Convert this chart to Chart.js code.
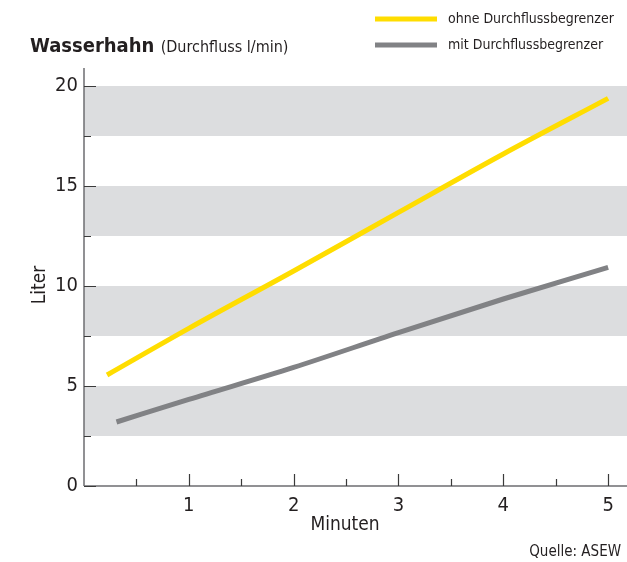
<!DOCTYPE html>
<html>
<head>
<meta charset="utf-8">
<script src="https://cdn.jsdelivr.net/npm/chart.js@4/dist/chart.umd.min.js"></script>
<style>
  html, body { margin: 0; padding: 0; background: #fff; }
  #wrap { position: relative; width: 627px; height: 562px; }
</style>
</head>
<body>
<div id="wrap"><canvas id="c" width="627" height="562"></canvas></div>
<script>
// Wasserverbrauch am Wasserhahn, Liter über Minuten
const minutesOhne = [0.22, 1, 2, 3, 4, 5];
const literOhne   = [5.55, 7.88, 10.75, 13.68, 16.6, 19.38];
const minutesMit  = [0.31, 1, 2, 3, 4, 5];
const literMit    = [3.2, 4.33, 5.93, 7.67, 9.35, 10.93];

const seriesLabels = ['ohne Durchflussbegrenzer', 'mit Durchflussbegrenzer'];
const seriesColors = ['#FFDD00', '#818285'];

// horizontal grey stripes (Liter ranges)
const bands = [[2.5, 5], [7.5, 10], [12.5, 15], [17.5, 20]];
const yMajorTicks = [0, 5, 10, 15, 20];
const yMinorTicks = [2.5, 7.5, 12.5, 17.5];
const xMajorTicks = [1, 2, 3, 4, 5];
const xMinorTicks = [0.5, 1.5, 2.5, 3.5, 4.5];

const FONT = '"Liberation Sans Narrow", "DejaVu Sans Condensed", "Roboto", sans-serif';
const TEXT = '#231f20';
const AXIS = '#6d6e71';

function pts(xs, ys) { return xs.map((x, i) => ({ x: x, y: ys[i] })); }

const decor = {
  id: 'decor',
  beforeDatasetsDraw(chart) {
    const { ctx, chartArea: a, scales: { x, y } } = chart;
    ctx.save();
    ctx.fillStyle = '#DCDDDF';
    bands.forEach(([lo, hi]) => {
      const top = y.getPixelForValue(hi), bot = y.getPixelForValue(lo);
      ctx.fillRect(a.left, top, a.right - a.left, bot - top);
    });
    // axes
    ctx.strokeStyle = AXIS;
    ctx.lineWidth = 1.5;
    ctx.beginPath();
    ctx.moveTo(a.left, a.top); ctx.lineTo(a.left, a.bottom);
    ctx.moveTo(a.left, a.bottom); ctx.lineTo(a.right, a.bottom);
    ctx.stroke();
    // inward tick marks
    ctx.strokeStyle = '#3a3a3a';
    ctx.lineWidth = 1.2;
    ctx.beginPath();
    yMajorTicks.forEach(v => { const p = Math.round(y.getPixelForValue(v)) + 0.5; ctx.moveTo(a.left, p); ctx.lineTo(a.left + 12, p); });
    yMinorTicks.forEach(v => { const p = Math.round(y.getPixelForValue(v)) + 0.5; ctx.moveTo(a.left, p); ctx.lineTo(a.left + 7, p); });
    xMajorTicks.forEach(v => { const p = Math.round(x.getPixelForValue(v)) + 0.5; ctx.moveTo(p, a.bottom); ctx.lineTo(p, a.bottom - 12); });
    xMinorTicks.forEach(v => { const p = Math.round(x.getPixelForValue(v)) + 0.5; ctx.moveTo(p, a.bottom); ctx.lineTo(p, a.bottom - 7); });
    ctx.stroke();
    ctx.restore();
  },
  afterDraw(chart) {
    const { ctx } = chart;
    ctx.save();
    ctx.fillStyle = TEXT;
    ctx.textBaseline = 'alphabetic';
    // title
    ctx.font = 'bold 20px ' + FONT;
    ctx.textAlign = 'left';
    ctx.fillText('Wasserhahn', 30, 52);
    const w = ctx.measureText('Wasserhahn ').width;
    ctx.font = '16px ' + FONT;
    ctx.fillText('(Durchfluss l/min)', 30 + w, 52);
    // legend
    const legendY = [19, 45];
    chart.data.datasets.forEach((ds, i) => {
      ctx.strokeStyle = ds.borderColor;
      ctx.lineWidth = 5;
      ctx.beginPath();
      ctx.moveTo(375, legendY[i]); ctx.lineTo(437, legendY[i]);
      ctx.stroke();
      ctx.font = '14px ' + FONT;
      ctx.textBaseline = 'middle';
      ctx.fillText(ds.label, 448, legendY[i]);
    });
    // axis titles
    ctx.textBaseline = 'middle';
    ctx.textAlign = 'center';
    ctx.font = '19px ' + FONT;
    ctx.fillText('Minuten', 345, 525);
    ctx.save();
    ctx.translate(40, 285);
    ctx.rotate(-Math.PI / 2);
    ctx.fillText('Liter', 0, 0);
    ctx.restore();
    // source
    ctx.textAlign = 'right';
    ctx.font = '15px ' + FONT;
    ctx.fillText('Quelle: ASEW', 621, 552);
    ctx.restore();
  }
};

new Chart(document.getElementById('c'), {
  type: 'line',
  data: {
    datasets: [
      { label: seriesLabels[0], data: pts(minutesOhne, literOhne), borderColor: seriesColors[0], borderWidth: 5, pointRadius: 0, borderCapStyle: 'butt', cubicInterpolationMode: 'monotone' },
      { label: seriesLabels[1], data: pts(minutesMit, literMit), borderColor: seriesColors[1], borderWidth: 5, pointRadius: 0, borderCapStyle: 'butt', cubicInterpolationMode: 'monotone' }
    ]
  },
  options: {
    responsive: false,
    animation: false,
    events: [],
    layout: { autoPadding: false, padding: { left: 0, right: 0, top: 68, bottom: 0 } },
    plugins: { legend: { display: false }, title: { display: false }, tooltip: { enabled: false } },
    scales: {
      x: {
        type: 'linear', min: 0, max: 5.18,
        grid: { display: false, drawTicks: false }, border: { display: false },
        ticks: { stepSize: 1, includeBounds: false, padding: 8, color: TEXT, font: { family: FONT, size: 20 },
          callback: v => (v === 0 ? '' : String(v)) },
        afterFit: s => { s.height = 76; }
      },
      y: {
        min: 0, max: 20.9,
        grid: { display: false, drawTicks: false }, border: { display: false },
        ticks: { stepSize: 5, includeBounds: false, padding: 6, color: TEXT, font: { family: FONT, size: 20 } },
        afterFit: s => { s.width = 84; }
      }
    }
  },
  plugins: [decor]
});
</script>
</body>
</html>
